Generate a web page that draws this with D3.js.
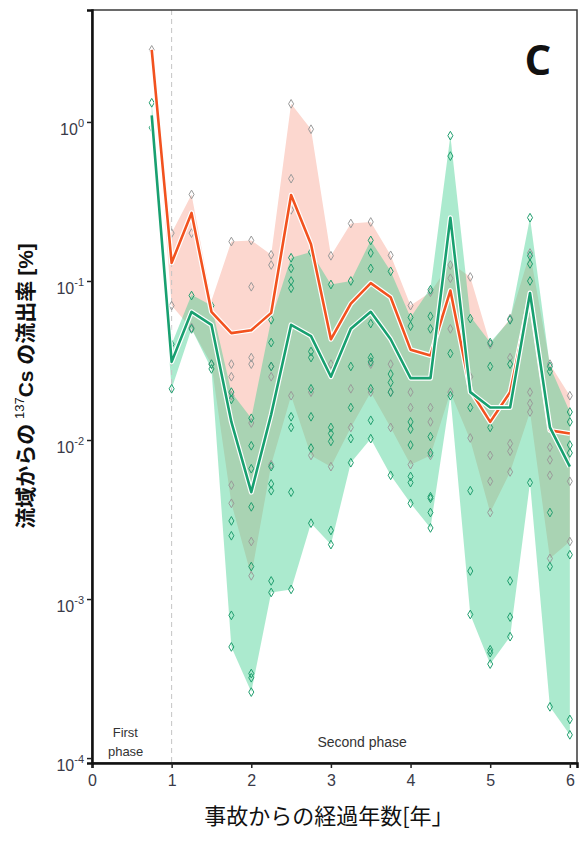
<!DOCTYPE html>
<html>
<head>
<meta charset="utf-8">
<script src="https://cdn.jsdelivr.net/npm/d3@7"></script>
<style>
  body { margin: 0; background: #fff; }
  svg { display: block; }
</style>
</head>
<body>
<div id="chart"></div>
<script>
// years since the accident (sampling times)
const years = [0.75, 1.0, 1.25, 1.5, 1.75, 2.0, 2.25, 2.5, 2.75, 3.0, 3.25,
               3.5, 3.75, 4.0, 4.25, 4.5, 4.75, 5.0, 5.25, 5.5, 5.75, 6.0];

// orange group: central line and envelope
const orangeMid  = [2.84, 0.13, 0.268, 0.064, 0.047, 0.049, 0.063, 0.347, 0.17, 0.043, 0.072,
                    0.097, 0.079, 0.037, 0.034, 0.087, 0.0206, 0.013, 0.02, 0.08, 0.0115, 0.011];
const orangeHigh = [2.84, 0.2, 0.35, 0.075, 0.177, 0.18, 0.146, 1.3, 0.9, 0.144, 0.23,
                    0.235, 0.145, 0.07, 0.085, 0.13, 0.106, 0.04, 0.058, 0.15, 0.03, 0.019];
const orangeLow  = [2.84, 0.07, 0.05, 0.03, 0.004, 0.0014, 0.007, 0.019, 0.008, 0.0068, 0.012,
                    0.02, 0.012, 0.007, 0.008, 0.02, 0.01, 0.0035, 0.0063, 0.015, 0.0018, 0.0023];

// green group: central line and envelope
const greenMid  = [1.1, 0.031, 0.064, 0.053, 0.013, 0.0047, 0.0145, 0.053, 0.045, 0.025, 0.05,
                   0.064, 0.043, 0.0245, 0.0245, 0.25, 0.02, 0.016, 0.016, 0.084, 0.012, 0.0068];
const greenHigh = [1.32, 0.04, 0.082, 0.07, 0.02, 0.0137, 0.057, 0.14, 0.152, 0.095, 0.1,
                   0.18, 0.115, 0.059, 0.09, 0.82, 0.06, 0.041, 0.057, 0.25, 0.029, 0.015];
const greenLow  = [0.92, 0.021, 0.05, 0.028, 0.0005, 0.00026, 0.0011, 0.00115, 0.003, 0.0022, 0.0072,
                   0.0102, 0.006, 0.004, 0.0028, 0.019, 0.0008, 0.00039, 0.00058, 0.0054, 0.00021, 0.00014];

// observed values per sampling time (same order as years)
const greyObs = [
  [2.84], [0.2, 0.07], [0.35, 0.2, 0.051], [0.03],
  [0.177, 0.03, 0.025, 0.019, 0.0052, 0.004],
  [0.18, 0.092, 0.033, 0.03, 0.0128, 0.0023, 0.0014],
  [0.146, 0.126, 0.029, 0.025, 0.007],
  [1.3, 0.44, 0.28, 0.019], [0.9, 0.02, 0.008], [0.144, 0.03, 0.0068],
  [0.23, 0.021, 0.012], [0.235, 0.03, 0.02], [0.145, 0.03, 0.02, 0.012],
  [0.07, 0.02, 0.016, 0.007], [0.085, 0.016, 0.013, 0.008], [0.126, 0.104, 0.05, 0.02],
  [0.106, 0.025, 0.0103], [0.04, 0.008, 0.0055, 0.0035], [0.058, 0.033, 0.0095, 0.0085, 0.0063],
  [0.15, 0.02, 0.017, 0.015], [0.03, 0.009, 0.0075, 0.006, 0.0018], [0.019, 0.0055, 0.0023]
];
const greenObs = [
  [1.32, 0.92], [0.021, 0.04], [0.081, 0.05], [0.07, 0.03, 0.028],
  [0.02, 0.018, 0.0031, 0.0025, 0.00079, 0.0005],
  [0.0137, 0.0092, 0.0066, 0.0038, 0.0016, 0.00034, 0.00032, 0.00026],
  [0.057, 0.041, 0.029, 0.0068, 0.0053, 0.0048, 0.0013, 0.0011],
  [0.14, 0.12, 0.1, 0.09, 0.014, 0.012, 0.0047, 0.00115],
  [0.152, 0.036, 0.033, 0.021, 0.014, 0.0089, 0.003],
  [0.095, 0.012, 0.011, 0.0098, 0.0027, 0.0022],
  [0.1, 0.029, 0.016, 0.0102, 0.0072],
  [0.18, 0.15, 0.12, 0.054, 0.033, 0.031, 0.021, 0.0133, 0.0102],
  [0.115, 0.026, 0.023, 0.02, 0.006],
  [0.059, 0.052, 0.013, 0.0117, 0.0093, 0.0059, 0.0054, 0.004],
  [0.088, 0.06, 0.05, 0.0105, 0.0083, 0.0044, 0.0043, 0.0035, 0.0028],
  [0.82, 0.61, 0.035, 0.019],
  [0.058, 0.016, 0.0048, 0.0015, 0.0008],
  [0.041, 0.029, 0.012, 0.00048, 0.00046, 0.00039],
  [0.057, 0.03, 0.0013, 0.00077, 0.00058],
  [0.25, 0.144, 0.128, 0.1, 0.0054],
  [0.029, 0.027, 0.0035, 0.0016, 0.00021],
  [0.015, 0.013, 0.0093, 0.0083, 0.0019, 0.000175, 0.00014]
];

const xTicks = [0, 1, 2, 3, 4, 5, 6];
const yExponents = [0, -1, -2, -3, -4];
const xTitle = "事故からの経過年数[年」";
const panelLabel = "C";

const W = 579, H = 844;
const margin = { top: 10, right: 2, bottom: 81, left: 92 };
const width = W - margin.left - margin.right;
const height = H - margin.top - margin.bottom;

const svg = d3.select("#chart").append("svg")
    .attr("width", W)
    .attr("height", H);

const g = svg.append("g")
    .attr("transform", `translate(${margin.left},${margin.top})`);

const x = d3.scaleLinear().domain([0, 6.09]).range([0, width]);
const y = d3.scaleLog().domain([Math.pow(10, -4.031), Math.pow(10, 0.704)]).range([height, 0]);

// envelopes
const band = (lo, hi) => d3.area()
    .x((d, i) => x(years[i]))
    .y0((d, i) => y(lo[i]))
    .y1((d, i) => y(hi[i]));

g.append("path")
    .datum(years)
    .attr("fill", "#fcd7cf")
    .attr("d", band(orangeLow, orangeHigh));

g.append("path")
    .datum(years)
    .attr("fill", "#3ccf8e")
    .attr("fill-opacity", 0.43)
    .attr("d", band(greenLow, greenHigh));

// first / second phase separator
g.append("line")
    .attr("x1", x(1)).attr("x2", x(1))
    .attr("y1", 0).attr("y2", height)
    .attr("stroke", "#c4c4c4")
    .attr("stroke-width", 1)
    .attr("stroke-dasharray", "5,4");

// observations
const diamond = d3.symbol().type(d3.symbolDiamond).size(22);

function drawObs(obs, colour) {
    const pts = obs.flatMap((vals, i) => vals.map(v => ({ t: years[i], v })));
    g.append("g")
        .selectAll("path")
        .data(pts)
        .join("path")
        .attr("d", diamond)
        .attr("transform", d => `translate(${x(d.t)},${y(d.v)})`)
        .attr("fill", "none")
        .attr("stroke", colour)
        .attr("stroke-width", 1);
}
drawObs(greyObs, "#9a9a9a");
drawObs(greenObs, "#1f9e6e");

// central lines with a white halo
const line = vals => d3.line()
    .x((d, i) => x(years[i]))
    .y((d, i) => y(vals[i]));

function drawLine(vals, colour) {
    g.append("path").datum(years)
        .attr("fill", "none")
        .attr("stroke", "#fff")
        .attr("stroke-width", 5)
        .attr("stroke-linejoin", "round")
        .attr("d", line(vals));
    g.append("path").datum(years)
        .attr("fill", "none")
        .attr("stroke", colour)
        .attr("stroke-width", 2.6)
        .attr("stroke-linejoin", "round")
        .attr("d", line(vals));
}
drawLine(orangeMid, "#f2521f");
drawLine(greenMid, "#18a070");

// panel frame
g.append("rect")
    .attr("width", width).attr("height", height)
    .attr("fill", "none")
    .attr("stroke", "#3a3a3a")
    .attr("stroke-width", 1.5);

// axes
const xAxis = g.append("g")
    .attr("transform", `translate(0,${height})`)
    .call(d3.axisBottom(x).tickValues(xTicks).tickSize(5).tickPadding(7).tickFormat(d3.format("d")));
xAxis.select(".domain").attr("stroke", "#111").attr("stroke-width", 2.5);
xAxis.selectAll(".tick line").attr("stroke", "#222").attr("stroke-width", 1.5);
xAxis.selectAll(".tick text")
    .attr("fill", "#3a3a48")
    .style("font-family", "'Liberation Sans', Arial, sans-serif")
    .style("font-size", "16px");

const yAxis = g.append("g")
    .call(d3.axisLeft(y).tickValues(yExponents.map(e => Math.pow(10, e))).tickSize(5).tickFormat(""));
yAxis.select(".domain").attr("stroke", "#111").attr("stroke-width", 2.5);
yAxis.selectAll(".tick line").attr("stroke", "#222").attr("stroke-width", 1.5);

const yLab = g.append("g").selectAll("text")
    .data(yExponents)
    .join("text")
    .attr("x", -8)
    .attr("y", d => y(Math.pow(10, d)) + 13)
    .attr("text-anchor", "end")
    .attr("fill", "#3a3a48")
    .style("font-family", "'Liberation Sans', Arial, sans-serif")
    .style("font-size", "16px");
yLab.append("tspan").text("10");
yLab.append("tspan").attr("dy", -8).style("font-size", "11px").text(d => d);

// phase labels
const note = g.append("g")
    .attr("fill", "#333")
    .style("font-family", "'Liberation Sans', Arial, sans-serif")
    .style("font-size", "13px");
note.append("text").attr("x", x(0.26)).attr("y", height - 26).text("First");
note.append("text").attr("x", x(0.2)).attr("y", height - 7).text("phase");
note.append("text").attr("x", x(2.83)).attr("y", height - 16)
    .style("font-size", "14px").text("Second phase");

// panel letter
g.append("text")
    .attr("x", x(5.6))
    .attr("y", 65)
    .attr("text-anchor", "middle")
    .attr("fill", "#111")
    .style("font-family", "'Open Sans', sans-serif")
    .style("font-weight", "bold")
    .style("font-size", "42px")
    .text(panelLabel);

// axis titles
svg.append("text")
    .attr("x", margin.left + x(3) - 2)
    .attr("y", 824)
    .attr("text-anchor", "middle")
    .attr("fill", "#111")
    .style("font-family", "'Noto Sans CJK JP', sans-serif")
    .style("font-size", "22px")
    .text(xTitle);

const yt = svg.append("text")
    .attr("transform", "translate(33,386) rotate(-90)")
    .attr("text-anchor", "middle")
    .attr("fill", "#111")
    .style("font-family", "'Liberation Sans', 'Noto Sans CJK JP', sans-serif")
    .style("font-weight", "bold")
    .style("font-size", "21px");
yt.append("tspan").style("font-family", "'Noto Sans CJK JP'").text("流域からの ");
yt.append("tspan").attr("dy", -9).style("font-size", "13px").style("font-weight", "normal").text("137");
yt.append("tspan").attr("dy", 9).text("Cs ");
yt.append("tspan").style("font-family", "'Noto Sans CJK JP'").text("の流出率 ");
yt.append("tspan").text("[%]");
</script>
</body>
</html>
